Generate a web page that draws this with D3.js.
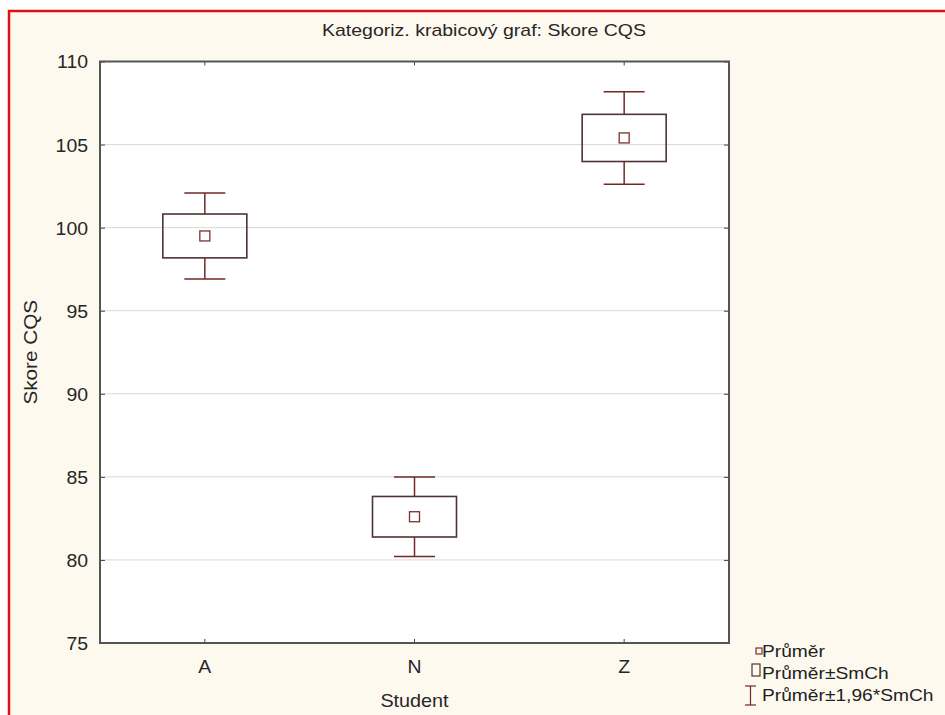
<!DOCTYPE html>
<html>
<head>
<meta charset="utf-8">
<script src="https://cdn.jsdelivr.net/npm/d3@7"></script>
<style>
  html, body { margin: 0; padding: 0; background: #ffffff; }
  svg { display: block; font-family: Arial, "Liberation Sans", sans-serif; }
</style>
</head>
<body>
<svg id="chart" width="945" height="715"></svg>
<script>
// Categorized box plot of CQS score by student group
const categories = ["A", "N", "Z"];
const means = [99.5, 82.6, 105.4];          // Průměr
const stdErrors = [1.32, 1.22, 1.42];       // SmCh
const yTicks = [75, 80, 85, 90, 95, 100, 105, 110];
const legendLabels = ["Průměr", "Průměr±SmCh", "Průměr±1,96*SmCh"];

const svg = d3.select("#chart");
const W = 945, H = 715;
const frame = { left: 100, right: 729, top: 61.5, bottom: 643 };
const textColor = "#262626";

// widen glyphs horizontally about the text anchor
function stretch(sel, sx) {
  sel.each(function () {
    const t = d3.select(this);
    const x = +t.attr("x") || 0, y = +t.attr("y") || 0;
    t.attr("transform", `translate(${x},${y}) scale(${sx},1) translate(${-x},${-y})`);
  });
}

// page background with red outline
svg.append("rect").attr("x", 0).attr("y", 0).attr("width", W).attr("height", H).attr("fill", "#ffffff");
svg.append("rect").attr("x", 9).attr("y", 11).attr("width", W).attr("height", H)
  .attr("fill", "#fdf9ef").attr("stroke", "#e01010").attr("stroke-width", 2.5);

const x = d3.scaleBand().domain(categories).range([frame.left, frame.right]).padding(0);
const y = d3.scaleLinear().domain([75, 110]).range([frame.bottom, frame.top]);

// plot area
svg.append("rect").attr("x", frame.left).attr("y", frame.top)
  .attr("width", frame.right - frame.left).attr("height", frame.bottom - frame.top)
  .attr("fill", "#ffffff");

// horizontal grid
svg.append("g").selectAll("line").data(yTicks.filter(t => t > 75 && t < 110)).join("line")
  .attr("x1", frame.left).attr("x2", frame.right)
  .attr("y1", d => y(d)).attr("y2", d => y(d))
  .attr("stroke", "#d9d9d9").attr("stroke-width", 1);

// axes with inward ticks
const tickColor = "#444";
const gy = svg.append("g").attr("transform", `translate(${frame.left},0)`)
  .call(d3.axisLeft(y).tickValues(yTicks).tickSize(-5).tickPadding(12));
const gyr = svg.append("g").attr("transform", `translate(${frame.right},0)`)
  .call(d3.axisRight(y).tickValues(yTicks).tickSize(-5).tickFormat(""));
const gx = svg.append("g").attr("transform", `translate(0,${frame.bottom})`)
  .call(d3.axisBottom(x).tickSize(-4).tickPadding(14));
const gxt = svg.append("g").attr("transform", `translate(0,${frame.top})`)
  .call(d3.axisTop(x).tickSize(-4).tickFormat(""));

[gy, gyr, gx, gxt].forEach(g => {
  g.select(".domain").remove();
  g.selectAll(".tick line").attr("stroke", tickColor);
  g.selectAll(".tick text").attr("fill", textColor).style("font-size", "18px")
    .style("font-family", "Arial, 'Liberation Sans', sans-serif");
});
gy.selectAll(".tick text").attr("dy", "0.36em");
gx.selectAll(".tick text").attr("dy", "0.9em");
stretch(gy.selectAll(".tick text"), 1.08);
stretch(gx.selectAll(".tick text"), 1.08);

// frame border
svg.append("rect").attr("x", frame.left).attr("y", frame.top)
  .attr("width", frame.right - frame.left).attr("height", frame.bottom - frame.top)
  .attr("fill", "none").attr("stroke", "#555555").attr("stroke-width", 2);

// boxes and whiskers
const boxW = 84, capW = 41, markS = 10;
const boxColor = "#4e3434", whiskColor = "#702828", markColor = "#7a3030";
const g = svg.append("g");
categories.forEach((c, i) => {
  const cx = x(c) + x.bandwidth() / 2;
  const m = means[i], se = stdErrors[i];
  const lo = m - 1.96 * se, hi = m + 1.96 * se;
  // whisker stems
  g.append("line").attr("x1", cx).attr("x2", cx).attr("y1", y(hi)).attr("y2", y(m + se))
    .attr("stroke", whiskColor).attr("stroke-width", 1.5);
  g.append("line").attr("x1", cx).attr("x2", cx).attr("y1", y(m - se)).attr("y2", y(lo))
    .attr("stroke", whiskColor).attr("stroke-width", 1.5);
  // caps
  [hi, lo].forEach(v => g.append("line")
    .attr("x1", cx - capW / 2).attr("x2", cx + capW / 2).attr("y1", y(v)).attr("y2", y(v))
    .attr("stroke", whiskColor).attr("stroke-width", 1.5));
  // mean ± SE box
  g.append("rect").attr("x", cx - boxW / 2).attr("y", y(m + se))
    .attr("width", boxW).attr("height", y(m - se) - y(m + se))
    .attr("fill", "none").attr("stroke", boxColor).attr("stroke-width", 1.6);
  // mean marker
  g.append("rect").attr("x", cx - markS / 2).attr("y", y(m) - markS / 2)
    .attr("width", markS).attr("height", markS)
    .attr("fill", "none").attr("stroke", markColor).attr("stroke-width", 1.3);
});

// titles
const title = svg.append("text").attr("x", 484).attr("y", 36).attr("text-anchor", "middle")
  .attr("fill", textColor).style("font-size", "16px").text("Kategoriz. krabicový graf: Skore CQS");
stretch(title, 1.22);
const xTitle = svg.append("text").attr("x", (frame.left + frame.right) / 2).attr("y", 707)
  .attr("text-anchor", "middle").attr("fill", textColor).style("font-size", "18px").text("Student");
stretch(xTitle, 1.1);
svg.append("text")
  .attr("transform", `translate(37,${(frame.top + frame.bottom) / 2}) rotate(-90) scale(1.15,1)`)
  .attr("text-anchor", "middle").attr("fill", textColor).style("font-size", "18px").text("Skore CQS");

// legend
const lg = svg.append("g");
lg.append("rect").attr("x", 756).attr("y", 648).attr("width", 6).attr("height", 6)
  .attr("fill", "none").attr("stroke", markColor).attr("stroke-width", 1.2);
lg.append("rect").attr("x", 752).attr("y", 664).attr("width", 8).attr("height", 12)
  .attr("fill", "none").attr("stroke", boxColor).attr("stroke-width", 1.2);
lg.append("line").attr("x1", 750.5).attr("x2", 750.5).attr("y1", 686).attr("y2", 705)
  .attr("stroke", whiskColor).attr("stroke-width", 1.2);
lg.append("line").attr("x1", 745).attr("x2", 756).attr("y1", 686).attr("y2", 686)
  .attr("stroke", whiskColor).attr("stroke-width", 1.2);
lg.append("line").attr("x1", 745).attr("x2", 756).attr("y1", 705).attr("y2", 705)
  .attr("stroke", whiskColor).attr("stroke-width", 1.2);
const legendText = lg.selectAll("text.lbl").data(legendLabels).join("text")
  .attr("class", "lbl")
  .attr("x", 762).attr("y", (d, i) => 657 + i * 22)
  .attr("fill", "#222").style("font-size", "16px").text(d => d);
stretch(legendText, 1.2);
</script>
</body>
</html>
